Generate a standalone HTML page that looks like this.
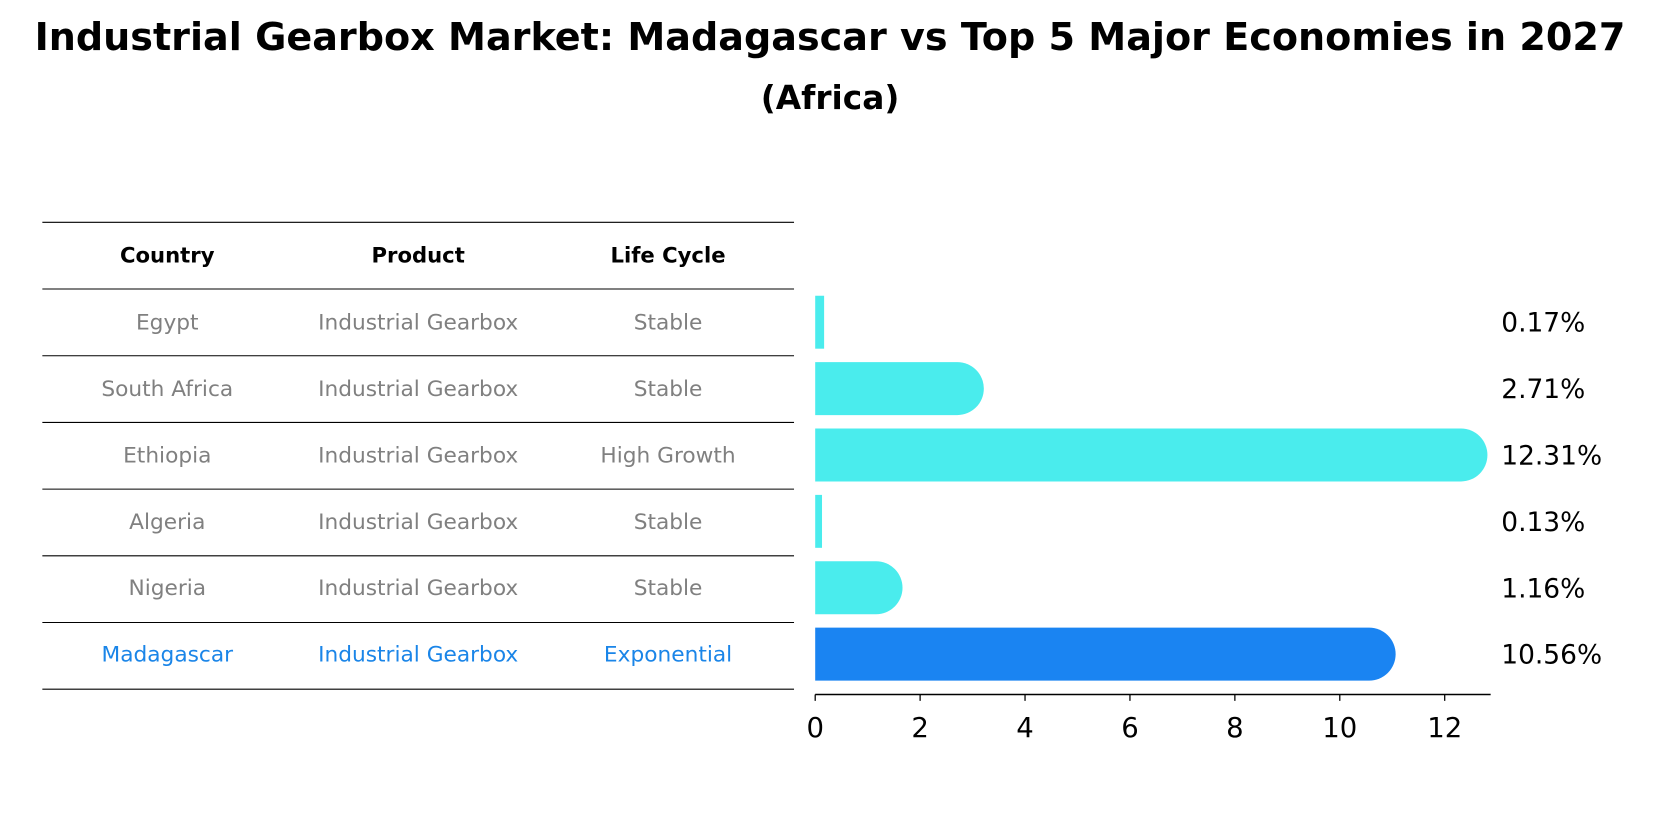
<!DOCTYPE html>
<html><head><meta charset="utf-8"><style>
body{margin:0;background:#fff;font-family:"Liberation Sans","DejaVu Sans",sans-serif}
svg text{font-family:"DejaVu Sans","Liberation Sans",sans-serif}
</style></head><body>
<svg id="c" width="1660" height="823" xmlns="http://www.w3.org/2000/svg">
<g transform="scale(1.0587)">
<text x="784" y="47" text-anchor="middle" font-size="36" font-weight="bold">Industrial Gearbox Market: Madagascar vs Top 5 Major Economies in 2027</text>
<text x="784" y="103" text-anchor="middle" font-size="31" font-weight="bold">(Africa)</text>
<g id="table"></g>
<g id="bars"></g>
</g>
</svg>
<script>
const countries=["Egypt","South Africa","Ethiopia","Algeria","Nigeria","Madagascar"];
const products=["Industrial Gearbox","Industrial Gearbox","Industrial Gearbox","Industrial Gearbox","Industrial Gearbox","Industrial Gearbox"];
const lifeCycles=["Stable","Stable","High Growth","Stable","Stable","Exponential"];
const values=[0.17,2.71,12.31,0.13,1.16,10.56];
const tickValues=[0,2,4,6,8,10,12];
const NS="http://www.w3.org/2000/svg";
function mk(tag,attrs,parent){const e=document.createElementNS(NS,tag);for(const k in attrs)e.setAttribute(k,attrs[k]);parent.appendChild(e);return e;}
const x0=770,pxPer=49.55;
function xs(v){return x0+v*pxPer;}
const rowTop=273,rowH=62.7,barH=50;
function yc(i){return rowTop+rowH*i+rowH/2;}
const tbl=document.getElementById('table');
for(let i=0;i<=7;i++){const y=210+i*63;
 const l=mk('line',{x1:40,x2:750,y1:y,y2:y,stroke:'#000','stroke-width':1},tbl);
 
 }
const colX=[158,395,631];
["Country","Product","Life Cycle"].forEach((h,j)=>{const t=mk('text',{x:colX[j],y:248,'text-anchor':'middle','font-size':20,'font-weight':'bold'},tbl);t.textContent=h;
 
 });
countries.forEach((c,i)=>{const col=i===5?'#1a85e8':'#808080';const y=yc(i)+7;
 [c,products[i],lifeCycles[i]].forEach((s,j)=>{const t=mk('text',{x:colX[j],y:y,'text-anchor':'middle','font-size':20.5,fill:col},tbl);t.textContent=s;
 
 });});
const bg=document.getElementById('bars');
values.forEach((v,i)=>{const col=i===5?'#1a84f2':'#4aeced';const w=xs(v)-x0;const y=yc(i)-barH/2;const r=barH/2;
 let p;
 if(w<r){p=mk('rect',{x:x0,y:y,width:Math.max(w,2),height:barH,fill:col},bg);}
 else{p=mk('path',{d:`M${x0},${y}H${x0+w}A${r},${r} 0 0 1 ${x0+w},${y+barH}H${x0}Z`,fill:col},bg);}
 
 
 const t=mk('text',{x:1418,y:yc(i)+9,'font-size':25},bg);t.textContent=v.toFixed(2)+'%';
 
 });
const ax=mk('line',{x1:x0,x2:1408,y1:656,y2:656,stroke:'#000','stroke-width':1.5},bg);


tickValues.forEach(v=>{const tk=mk('line',{x1:xs(v),x2:xs(v),y1:656,y2:662,stroke:'#000','stroke-width':1.2},bg);
 
 
 const t=mk('text',{x:xs(v),y:696,'text-anchor':'middle','font-size':26},bg);t.textContent=v;
 
 });
</script>
</body></html>
